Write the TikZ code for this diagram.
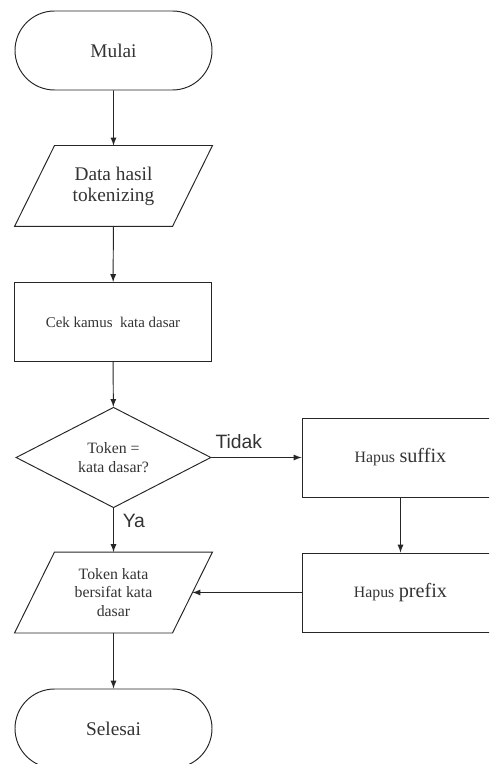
\documentclass[tikz,border=0pt]{standalone}
\usepackage{fontspec}
\setmainfont{Liberation Serif}
\newfontfamily\labelfont{Liberation Sans}
\usetikzlibrary{shapes.geometric,shapes.misc,calc}

% parallelogram round a named text node
\newcommand{\drawio}[1]{\draw[draw=black!85] ($(#1.north west)+(0.8,0)$) -- (#1.north east) -- ($(#1.south east)+(-0.8,0)$) -- (#1.south west) -- cycle;}

\begin{document}
\begin{tikzpicture}[
    line width=0.55pt,
    every node/.style={text=black!80},
    terminal/.style={rounded rectangle,draw=black!85,minimum width=3.94cm,minimum height=1.58cm,inner sep=0pt,font=\fontsize{11}{12}\selectfont},
    iobox/.style={rectangle,minimum width=3.94cm,minimum height=1.6cm,inner sep=0pt,align=center},
    procbox/.style={rectangle,draw=black!85,minimum width=3.94cm,minimum height=1.58cm,inner sep=0pt,align=center},
    decision/.style={diamond,draw=black!85,minimum width=3.9cm,minimum height=1.58cm,inner sep=0pt,align=center,font=\fontsize{9}{10.6}\selectfont},
    flow/.style={draw=black!85,-latex},
    small/.style={font=\fontsize{9}{10.6}\selectfont}
]
    % Page size
    \useasboundingbox (0,0) rectangle (9.78,-15.28);
    \clip (0,0) rectangle (9.78,-15.28);

    % Draw nodes
    \node[terminal] (mulai) at (2.27,-1.01) {Mulai};
    \node[iobox,font=\fontsize{11}{12}\selectfont] (data) at (2.27,-3.72) {Data hasil\\tokenizing};
    \node[procbox,font=\fontsize{8.5}{10}\selectfont] (cek) at (2.26,-6.44) {Cek kamus~ kata dasar};
    \node[decision] (cektoken) at (2.27,-9.15) {Token =\\kata dasar?};
    \node[procbox] (suffix) at (8.01,-9.15) {{\fontsize{9}{10}\selectfont Hapus} {\fontsize{11.5}{12}\selectfont suffix}};
    \node[procbox] (prefix) at (8.01,-11.85) {{\fontsize{9}{10}\selectfont Hapus} {\fontsize{11.5}{12}\selectfont prefix}};
    \node[iobox,small] (hasil) at (2.27,-11.85) {Token kata\\bersifat kata\\dasar};
    \node[terminal] (selesai) at (2.27,-14.57) {Selesai};
    \coordinate (hasilkanan) at ($(hasil.east)+(-0.4,0)$);

    % Draw input/output shapes
    \drawio{data}
    \drawio{hasil}

    % Draw connectors
    \draw[flow] (mulai) -- (data);
    \draw[flow] (data) -- (cek);
    \draw[flow] (cek) -- (cektoken);
    \draw[flow] (cektoken.east) -- node[pos=0.02,above right,inner sep=1pt,yshift=4pt,font=\labelfont\fontsize{11}{12}\selectfont] (tidak) {Tidak} (suffix.west);
    \draw[flow] (cektoken.south) -- node[pos=0.3,right,inner sep=1pt,xshift=4pt,font=\labelfont\fontsize{11}{12}\selectfont] (ya) {Ya} (hasil.north);
    \draw[flow] (suffix) -- (prefix);
    \draw[flow] (prefix.west) -- (hasilkanan);
    \draw[flow] (hasil) -- (selesai);
\end{tikzpicture}
\end{document}
